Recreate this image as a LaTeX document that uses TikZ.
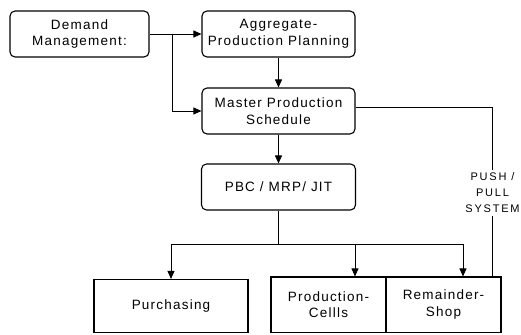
\documentclass[tikz,border=0pt]{standalone}
\usepackage{fontspec}
\setmainfont{Liberation Sans}[LetterSpace=9]
\usetikzlibrary{arrows.meta,positioning,calc}

\begin{document}
\begin{tikzpicture}[x=1pt, y=-1pt,
    rbox/.style={draw, rounded corners=5pt, line width=1.1pt, align=center, inner sep=0pt, font=\fontsize{13.5}{16.5}\selectfont},
    sbox/.style={draw, line width=1.1pt, align=center, inner sep=0pt, font=\fontsize{13.5}{16.5}\selectfont},
    wire/.style={line width=0.9pt},
    link/.style={wire, -{Triangle[length=8pt,width=7pt]}}]
    \useasboundingbox (0,0) rectangle (521,334);

    % Planning chain
    \node [rbox, minimum width=139, minimum height=46] (dem) at (79.5,34) {Demand\\Management:};
    \node [rbox, minimum width=153, minimum height=46] (agg) at (278.5,34) {Aggregate-\\Production Planning};
    \node [rbox, minimum width=153, minimum height=46] (mps) at (278.5,111) {Master Production\\Schedule};
    \node [rbox, minimum width=154, minimum height=46] (pbc) at (278.5,187) {PBC / MRP/ JIT};

    % Bottom row
    \node [sbox, minimum width=154, minimum height=53] (pur) at (171,306) {Purchasing};
    \node [sbox, minimum width=115, minimum height=55.5] (cel) at (328.5,304.75) {Production-\\Cellls};
    \node [sbox, minimum width=115, minimum height=55.5] (rem) at (443.5,304.75) {Remainder-\\Shop};

    % Arrows
    \coordinate (split) at (172,34);
    \draw [link] (dem.east) -- (agg.west);
    \draw [link] (split) |- (mps.west);
    \draw [link] (agg.south) -- (mps.north);
    \draw [link] (mps.south) -- (pbc.north);

    \coordinate (bus) at (278.5,244);
    \draw [wire] (pbc.south) -- (bus);
    \draw [wire] (171,244) -- (463,244);
    \foreach \x/\n in {171/pur, 355/cel, 463/rem} {
        \draw [link] (\x,244) -- (\n.north -| \x,244);
    }

    % Push / pull feedback
    \coordinate (push) at (492.5,107);
    \draw [wire] (mps.east |- push) -- (push) -- (push |- rem.north);
    \node [fill=white, align=center, inner sep=3pt, font=\fontsize{11}{16}\selectfont\addfontfeature{LetterSpace=16}] (pp) at (492.5,193) {PUSH /\\PULL\\SYSTEM};
\end{tikzpicture}
\end{document}
